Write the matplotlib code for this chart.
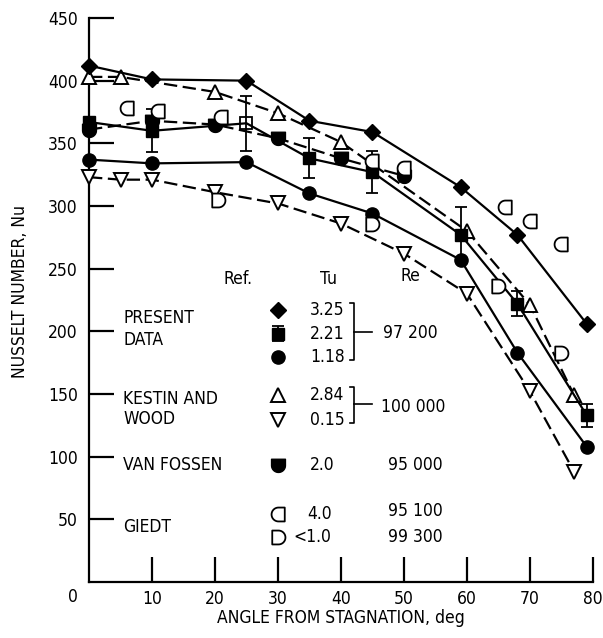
import numpy as np
import matplotlib
matplotlib.use("Agg")
import matplotlib.pyplot as plt
from matplotlib.path import Path
from matplotlib import font_manager

# condensed typewriter-ish look of the report figure
names = {f.name for f in font_manager.fontManager.ttflist}
if "Liberation Sans Narrow" in names:
    plt.rcParams["font.family"] = "Liberation Sans Narrow"
else:
    plt.rcParams["font.family"] = "DejaVu Sans"
    plt.rcParams["font.stretch"] = "condensed"

# present data
x_pd = [0, 10, 25, 35, 45, 59, 68, 79]
nu_325 = [412, 401, 400, 368, 359, 315, 277, 206]
nu_221 = [367, 360, 366, 338, 327, 277, 222, 133]
err_221 = [0, 17, 22, 16, 17, 22, 10, 9]
nu_118 = [337, 334, 335, 310, 294, 257, 183, 108]

# Kestin and Wood
x_kw284 = [0, 5, 20, 30, 40, 60, 70, 77]
nu_kw284 = [403, 403, 391, 374, 351, 280, 221, 149]
x_kw015 = [0, 5, 10, 20, 30, 40, 50, 60, 70, 77]
nu_kw015 = [323, 321, 321, 311, 302, 286, 262, 230, 152, 88]

# Van Fossen
x_vf = [0, 10, 20, 30, 40, 50]
nu_vf = [361, 368, 365, 354, 338, 324]

# Giedt
x_g40 = [6, 11, 21, 45, 50, 66, 70, 75]
nu_g40 = [378, 376, 371, 336, 330, 299, 288, 270]
x_g10 = [20.5, 45, 65, 75]
nu_g10 = [305, 286, 236, 183]

# key table
tu_labels = ["3.25", "2.21", "1.18", "2.84", "0.15", "2.0", "4.0", "<1.0"]
re_labels = ["97 200", "100 000", "95 000", "95 100", "99 300"]

# custom markers: D (flat left), mirrored D, flat-top round-bottom
th = np.linspace(np.pi / 2, -np.pi / 2, 25)
d_verts = np.vstack([[[-0.9, -1], [-0.9, 1], [0, 1]],
                     np.column_stack([np.cos(th), np.sin(th)]),
                     [[-0.9, -1]]])
m_D = Path(d_verts, closed=True)
m_revD = Path(d_verts * [-1, 1], closed=True)
m_vf = Path(np.column_stack([d_verts[:, 1], -d_verts[:, 0]]), closed=True)

fig = plt.figure(figsize=(6.03, 6.38), dpi=100)
ax = fig.add_axes([0.1476, 0.0878, 0.8358, 0.884])

lw = 1.6
dash = (0, (6, 2.5))
k = "black"
ms_d, ms_s, ms_o, ms_t, ms_c = 8, 9, 9.5, 10, 10

ax.plot(x_pd, nu_325, "-", color=k, lw=lw, marker="D", ms=ms_d, clip_on=False, zorder=5)
ax.errorbar(x_pd, nu_221, yerr=err_221, fmt="-", color=k, lw=lw, elinewidth=1.3,
            capsize=4, capthick=1.3, clip_on=False, zorder=5)
filled = [i for i in range(len(x_pd)) if i != 2]
ax.plot([x_pd[i] for i in filled], [nu_221[i] for i in filled], "s", color=k, ms=ms_s,
        clip_on=False, zorder=6)
ax.plot([x_pd[2]], [nu_221[2]], "s", mfc="none", mec=k, mew=1.3, ms=ms_s, zorder=6)
ax.plot(x_pd, nu_118, "-", color=k, lw=lw, marker="o", ms=ms_o, clip_on=False, zorder=5)

ax.plot(x_kw284, nu_kw284, color=k, lw=lw, ls=dash, marker="^", ms=ms_t, mfc="white",
        mew=1.4, clip_on=False, zorder=4)
ax.plot(x_kw015, nu_kw015, color=k, lw=lw, ls=dash, marker="v", ms=ms_t, mfc="white",
        mew=1.4, clip_on=False, zorder=4)
ax.plot(x_vf, nu_vf, color=k, lw=lw, ls=dash, marker=m_vf, ms=ms_c, mfc=k, mec=k,
        clip_on=False, zorder=4)
ax.plot(x_g40, nu_g40, ls="none", marker=m_revD, ms=ms_c, mfc="white", mec=k, mew=1.3,
        zorder=7)
ax.plot(x_g10, nu_g10, ls="none", marker=m_D, ms=ms_c, mfc="white", mec=k, mew=1.3,
        zorder=7)

# key block drawn inside the axes
fs = 12.5
ax.text(23.7, 242, "Ref.", fontsize=fs, ha="center", va="center")
ax.text(38.0, 242, "Tu", fontsize=fs, ha="center", va="center")
ax.text(51.0, 244, "Re", fontsize=fs, ha="center", va="center")

ax.text(5.4, 210.5, "PRESENT", fontsize=fs, va="center")
ax.text(5.4, 193, "DATA", fontsize=fs, va="center")
ax.text(5.4, 146, "KESTIN AND", fontsize=fs, va="center")
ax.text(5.4, 130, "WOOD", fontsize=fs, va="center")
ax.text(5.4, 93.5, "VAN FOSSEN", fontsize=fs, va="center")
ax.text(5.4, 44, "GIEDT", fontsize=fs, va="center")

key_y = [217, 198, 179.5, 149, 129, 93.5, 54.5, 36]
ax.plot([30], [key_y[0]], "D", color=k, ms=ms_d)
ax.errorbar([30], [key_y[1]], yerr=[[6], [6]], fmt="s", color=k, ms=ms_s, elinewidth=1.3,
            capsize=4, capthick=1.3)
ax.plot([30], [key_y[2]], "o", color=k, ms=ms_o)
ax.plot([30], [key_y[3]], "^", mfc="white", mec=k, mew=1.4, ms=ms_t)
ax.plot([30], [key_y[4]], "v", mfc="white", mec=k, mew=1.4, ms=ms_t)
ax.plot([30], [key_y[5]], ls="none", marker=m_vf, mfc=k, mec=k, ms=ms_c)
ax.plot([30], [key_y[6]], ls="none", marker=m_revD, mfc="white", mec=k, mew=1.3, ms=ms_c)
ax.plot([30], [key_y[7]], ls="none", marker=m_D, mfc="white", mec=k, mew=1.3, ms=ms_c)

tu_x = [35.1, 35.1, 35.1, 35.1, 35.1, 35.1, 34.7, 32.4]
for tx, ty, s in zip(tu_x, key_y, tu_labels):
    ax.text(tx, ty, s, fontsize=fs, va="center")

# brackets
ax.plot([41.4, 42, 42, 41.4], [222.5, 222.5, 177, 177], color=k, lw=1.2)
ax.plot([42, 45], [199.5, 199.5], color=k, lw=1.2)
ax.plot([41.4, 42, 42, 41.4], [155.5, 155.5, 127, 127], color=k, lw=1.2)
ax.plot([42, 45], [142, 142], color=k, lw=1.2)

re_pos = [(46.6, 198.7), (46.3, 139.5), (47.5, 93.5), (47.5, 56.5), (47.5, 36)]
for (rx, ry), s in zip(re_pos, re_labels):
    ax.text(rx, ry, s, fontsize=fs, va="center")

# axes styling
ax.set_xlim(0, 80)
ax.set_ylim(0, 450)
ax.set_xticks(range(10, 81, 10))
ax.set_yticks(range(50, 451, 50))
for side in ("top", "right"):
    ax.spines[side].set_visible(False)
for side in ("left", "bottom"):
    ax.spines[side].set_linewidth(1.6)
ax.tick_params(axis="both", direction="in", length=18, width=1.6, labelsize=fs)
ax.tick_params(axis="y", pad=8)
ax.tick_params(axis="x", pad=6)
ax.text(-2.5, -12, "0", fontsize=fs, ha="center", va="center", clip_on=False)

fig.text(20 / 603, 1 - 292 / 638, "NUSSELT NUMBER, Nu", rotation=90, fontsize=fs,
         ha="center", va="center")
fig.text(341 / 603, 1 - 618 / 638, "ANGLE FROM STAGNATION, deg", fontsize=fs,
         ha="center", va="center")

fig.savefig("out.png", dpi=100)
